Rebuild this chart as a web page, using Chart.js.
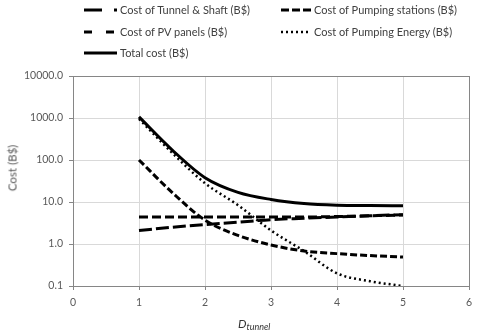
<!DOCTYPE html>
<html>
<head>
<meta charset="utf-8">
<script src="https://cdn.jsdelivr.net/npm/chart.js@4.4.1/dist/chart.umd.min.js"></script>
<style>
body { margin: 0; background: #fff; }
#contenedor { position: relative; width: 480px; height: 335px; font-family: Lato, "Liberation Sans", sans-serif; }
#miGrafico { position: absolute; left: 0; top: 0; }
.ley { position: absolute; height: 14px; line-height: 14px; font-size: 11px; color: #404040; white-space: nowrap; }
.ley svg { position: absolute; left: 0; top: 0; }
.ley span { position: absolute; top: 0; }
#tituloY { position: absolute; left: 12px; top: 168px; transform: translate(-50%, -50%) rotate(-90deg); font-size: 11.5px; font-weight: 400; color: #595959; white-space: nowrap; }
#tituloX { position: absolute; left: 238px; top: 316px; font-size: 12px; font-style: italic; color: #333; white-space: nowrap; }
#tituloX sub { font-size: 9px; vertical-align: -2px; }
</style>
</head>
<body>
<div id="contenedor">
  <canvas id="miGrafico" width="480" height="335"></canvas>
  <div id="leyenda"></div>
  <div id="tituloY">Cost (B$)</div>
  <div id="tituloX">D<sub>tunnel</sub></div>
</div>
<script>
// Datos (diámetro del túnel vs costo, escala logarítmica)
var diametros = [1, 1.5, 2, 2.5, 3, 3.5, 4, 4.5, 5];
var costoTunel = [2.1, 2.5, 2.9, 3.3, 3.8, 4.1, 4.4, 4.7, 5.0];
var costoEstaciones = [100, 17, 3.7, 1.6, 0.95, 0.68, 0.59, 0.53, 0.49];
var costoPaneles = [4.4, 4.4, 4.4, 4.4, 4.4, 4.4, 4.5, 4.7, 4.9];
var costoEnergia = [950, 150, 28, 8.4, 2.1, 0.68, 0.2, 0.13, 0.1];
var costoTotal = [1060, 175, 38, 17, 11.5, 9.2, 8.4, 8.2, 8.1];
var nombres = ["Cost of Tunnel & Shaft (B$)", "Cost of Pumping stations (B$)", "Cost of PV panels (B$)", "Cost of Pumping Energy (B$)", "Total cost (B$)"];
var ticksY = [0.1, 1, 10, 100, 1000, 10000];
var ticksX = [0, 1, 2, 3, 4, 5, 6];

// Convierte una lista de valores en puntos {x, y}
function puntos(valores) {
    return diametros.map(function(d, i) { return { x: d, y: valores[i] }; });
}

// Estilo de cada serie: guiones en el gráfico y en la leyenda
var estilos = [
    { dash: [13, 4], leyDash: [18, 12], ancho: 3 },
    { dash: [7, 3], leyDash: [8, 3], ancho: 3 },
    { dash: [9, 4], leyDash: [8, 14], ancho: 3 },
    { dash: [2, 3], leyDash: [2, 3], ancho: 2.5 },
    { dash: [], leyDash: [], ancho: 3 }
];
var series = [costoTunel, costoEstaciones, costoPaneles, costoEnergia, costoTotal];

var datos = {
    datasets: series.map(function(valores, i) {
        return {
            label: nombres[i],
            data: puntos(valores),
            borderColor: "#000",
            borderWidth: estilos[i].ancho,
            borderDash: estilos[i].dash,
            borderCapStyle: "butt",
            pointRadius: 0,
            fill: false,
            cubicInterpolationMode: "monotone"
        };
    })
};

// Marco alrededor del área del gráfico
var marco = {
    id: "marco",
    beforeDatasetsDraw: function(chart) {
        var a = chart.chartArea, ctx = chart.ctx;
        ctx.save();
        ctx.strokeStyle = "#868686";
        ctx.lineWidth = 1;
        ctx.strokeRect(Math.round(a.left) + 0.5, Math.round(a.top) + 0.5, Math.round(a.right - a.left), Math.round(a.bottom - a.top));
        ctx.restore();
    }
};

var fuente = { family: "Lato", size: 10.5 };

new Chart(document.getElementById("miGrafico").getContext("2d"), {
    type: "line",
    data: datos,
    plugins: [marco],
    options: {
        responsive: false,
        animation: false,
        layout: { padding: { top: 76, right: 11, left: 0, bottom: 0 } },
        plugins: { legend: { display: false }, tooltip: { enabled: false } },
        scales: {
            x: {
                type: "linear", min: 0, max: 6,
                afterBuildTicks: function(s) { s.ticks = ticksX.map(function(v) { return { value: v }; }); },
                ticks: { padding: 6, color: "#595959", font: fuente, maxRotation: 0 },
                grid: { color: "#d9d9d9", tickColor: "#868686", tickLength: 4 },
                border: { color: "#868686" },
                afterFit: function(s) { s.height = 49; }
            },
            y: {
                type: "logarithmic", min: 0.1, max: 10000,
                afterBuildTicks: function(s) { s.ticks = ticksY.map(function(v) { return { value: v }; }); },
                ticks: { padding: 6, color: "#595959", font: fuente, callback: function(v) { return Number(v).toFixed(1); } },
                grid: { color: "#d9d9d9", tickColor: "#868686", tickLength: 4 },
                border: { color: "#868686" },
                afterFit: function(s) { s.width = 73; }
            }
        }
    }
});

// Leyenda en HTML: dos columnas, tres filas
var posLeyenda = [
    { left: 84, top: 3, w: 33 },
    { left: 281, top: 3, w: 30 },
    { left: 84, top: 25, w: 33 },
    { left: 281, top: 25, w: 30 },
    { left: 84, top: 46, w: 33 }
];
var html = "";
nombres.forEach(function(n, i) {
    var p = posLeyenda[i];
    var e = estilos[i];
    html += '<div class="ley" style="left:' + p.left + 'px;top:' + p.top + 'px">' +
        '<svg width="' + p.w + '" height="14"><line x1="0" y1="7" x2="' + p.w + '" y2="7" stroke="#000" stroke-width="' + e.ancho + '"' +
        (e.leyDash.length ? ' stroke-dasharray="' + e.leyDash.join(",") + '"' : '') + '/></svg>' +
        '<span style="left:' + (p.w + 3) + 'px">' + n.replace("&", "&amp;") + '</span></div>';
});
document.getElementById("leyenda").innerHTML = html;
</script>
</body>
</html>
